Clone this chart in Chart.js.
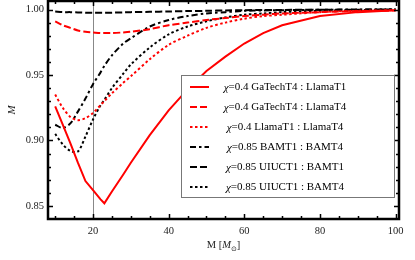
<!DOCTYPE html>
<html>
<head>
<meta charset="utf-8">
<script src="https://cdn.jsdelivr.net/npm/chart.js@4/dist/chart.umd.min.js"></script>
<style>
  body { margin: 0; background: #fff; }
  canvas { display: block; }
</style>
</head>
<body>
<canvas id="chart" width="415" height="260"></canvas>
<script>
const masses = [10, 12, 14, 16, 18, 20, 22, 23, 25, 28, 30, 35, 40, 45, 50, 55, 60, 65, 70, 80, 90, 100];

const gaTechT4LlamaT1 = [0.926, 0.912, 0.898, 0.883, 0.869, 0.862, 0.855, 0.852, 0.861, 0.874, 0.883, 0.904, 0.923, 0.939, 0.953, 0.964, 0.974, 0.982, 0.988, 0.995, 0.998, 0.9995];
const gaTechT4LlamaT4 = [0.991, 0.988, 0.986, 0.984, 0.983, 0.9825, 0.982, 0.982, 0.982, 0.9825, 0.983, 0.985, 0.988, 0.990, 0.992, 0.9935, 0.995, 0.996, 0.997, 0.998, 0.9988, 0.9992];
const llamaT1LlamaT4 = [0.935, 0.925, 0.918, 0.9155, 0.917, 0.921, 0.927, 0.930, 0.936, 0.944, 0.949, 0.962, 0.973, 0.980, 0.986, 0.990, 0.993, 0.995, 0.996, 0.998, 0.999, 0.9995];
const bamT1BamT4 = [0.912, 0.9095, 0.913, 0.922, 0.932, 0.943, 0.952, 0.957, 0.965, 0.974, 0.978, 0.987, 0.992, 0.995, 0.997, 0.998, 0.999, 0.9993, 0.9995, 0.9998, 1.0, 1.0];
const uiucT1BamT1 = [0.9985, 0.998, 0.998, 0.9978, 0.9976, 0.9975, 0.9975, 0.9975, 0.9976, 0.9978, 0.998, 0.9982, 0.9985, 0.9988, 0.999, 0.9993, 0.9995, 0.9996, 0.9997, 0.9998, 0.9999, 1.0];
const uiucT1BamT4 = [0.905, 0.897, 0.892, 0.8915, 0.903, 0.916, 0.927, 0.931, 0.940, 0.951, 0.958, 0.971, 0.981, 0.987, 0.991, 0.994, 0.996, 0.997, 0.998, 0.999, 0.9995, 1.0];

const xTicks = [20, 40, 60, 80, 100];
const yTicks = [0.85, 0.90, 0.95, 1.00];

const RED = '#ff0000';
const BLACK = '#000000';
const SERIF = '"Liberation Serif"';

function pts(vals) {
    return masses.map((m, i) => ({ x: m, y: vals[i] }));
}

function series(label, vals, color, dash, tension) {
    return {
        label: label,
        data: pts(vals),
        borderColor: color,
        borderWidth: 2,
        borderDash: dash,
        pointRadius: 0,
        fill: false,
        tension: tension
    };
}

// inward tick marks, frame, axis title and boxed legend, drawn on top
const framePlugin = {
    id: 'frame',
    afterDraw(chart) {
        const ctx = chart.ctx;
        const a = chart.chartArea;
        const xs = chart.scales.x;
        const ys = chart.scales.y;
        ctx.save();
        ctx.strokeStyle = '#000';
        ctx.lineWidth = 1.5;
        for (let v = 10; v <= 100; v += 5) {
            const px = Math.round(xs.getPixelForValue(v)) + 0.5;
            const len = v % 20 === 0 ? 5 : 3;
            ctx.beginPath();
            ctx.moveTo(px, a.bottom); ctx.lineTo(px, a.bottom - len);
            ctx.moveTo(px, a.top); ctx.lineTo(px, a.top + len);
            ctx.stroke();
        }
        for (let k = 85; k <= 100; k++) {
            const py = Math.round(ys.getPixelForValue(k / 100)) + 0.5;
            const len = k % 5 === 0 ? 5 : 3;
            ctx.beginPath();
            ctx.moveTo(a.left, py); ctx.lineTo(a.left + len, py);
            ctx.moveTo(a.right, py); ctx.lineTo(a.right - len, py);
            ctx.stroke();
        }
        ctx.lineWidth = 2.5;
        ctx.strokeRect(a.left, a.top, a.right - a.left, a.bottom - a.top);

        // x axis title: M [M_sun]
        ctx.fillStyle = '#222';
        ctx.textBaseline = 'alphabetic';
        ctx.textAlign = 'left';
        const parts = [
            { t: 'M [', f: '10.5px ' + SERIF, dy: 0 },
            { t: 'M', f: 'italic 10.5px ' + SERIF, dy: 0 },
            { t: '⊙', f: '7px "DejaVu Sans"', dy: 3 },
            { t: ']', f: '10.5px ' + SERIF, dy: 0 }
        ];
        let tw = 0;
        parts.forEach(p => { ctx.font = p.f; p.w = ctx.measureText(p.t).width; tw += p.w; });
        let tx = (a.left + a.right) / 2 - tw / 2;
        const ty = a.bottom + 29;
        parts.forEach(p => { ctx.font = p.f; ctx.fillText(p.t, tx, ty + p.dy); tx += p.w; });

        // legend box
        const bx = a.left + 133, by = a.top + 74, bw = 213, bh = 122;
        ctx.fillStyle = '#fff';
        ctx.fillRect(bx, by, bw, bh);
        ctx.lineWidth = 1;
        ctx.strokeStyle = '#777';
        ctx.strokeRect(bx + 0.5, by + 0.5, bw, bh);
        ctx.textBaseline = 'middle';
        chart.data.datasets.forEach((ds, i) => {
            const y = by + 12 + i * 20;
            ctx.strokeStyle = ds.borderColor;
            ctx.lineWidth = 2;
            ctx.setLineDash(ds.borderDash || []);
            ctx.beginPath();
            ctx.moveTo(bx + 9, y); ctx.lineTo(bx + 28, y);
            ctx.stroke();
            ctx.setLineDash([]);
            ctx.fillStyle = '#000';
            const chi = 'χ';
            const rest = '=' + ds.label.split('=')[1];
            ctx.font = 'italic 11px ' + SERIF;
            const w1 = ctx.measureText(chi).width;
            ctx.font = '11px ' + SERIF;
            const w2 = ctx.measureText(rest).width;
            const x0 = bx + 104 - (w1 + w2) / 2;
            ctx.font = 'italic 11px ' + SERIF;
            ctx.fillText(chi, x0, y + 1);
            ctx.font = '11px ' + SERIF;
            ctx.fillText(rest, x0 + w1, y);
        });
        ctx.restore();
    }
};

new Chart(document.getElementById('chart').getContext('2d'), {
    type: 'line',
    data: {
        datasets: [
            series('χ=0.4 GaTechT4 : LlamaT1', gaTechT4LlamaT1, RED, [], 0),
            series('χ=0.4 GaTechT4 : LlamaT4', gaTechT4LlamaT4, RED, [7, 3], 0.3),
            series('χ=0.4 LlamaT1 : LlamaT4', llamaT1LlamaT4, RED, [2.5, 2.5], 0.3),
            series('χ=0.85 BAMT1 : BAMT4', bamT1BamT4, BLACK, [6, 3, 2.5, 3], 0.3),
            series('χ=0.85 UIUCT1 : BAMT1', uiucT1BamT1, BLACK, [7, 3], 0.3),
            series('χ=0.85 UIUCT1 : BAMT4', uiucT1BamT4, BLACK, [2.5, 2.5], 0.3)
        ]
    },
    options: {
        responsive: false,
        animation: false,
        layout: { padding: { top: 1, right: 16, left: 0, bottom: 0 } },
        plugins: {
            legend: { display: false },
            tooltip: { enabled: false }
        },
        scales: {
            x: {
                type: 'linear',
                min: 8.1,
                max: 100.9,
                afterBuildTicks: (s) => { s.ticks = xTicks.map(v => ({ value: v })); },
                afterFit: (s) => { s.height = 41; s.paddingLeft = 0; s.paddingRight = 0; },
                border: { display: false },
                grid: {
                    drawTicks: false,
                    color: (c) => (c.tick && c.tick.value === 20) ? '#888' : 'rgba(0,0,0,0)',
                    lineWidth: 1
                },
                ticks: {
                    padding: 6,
                    color: '#222',
                    font: { family: 'Liberation Serif', size: 10.5 },
                    maxRotation: 0
                },
                title: { display: false }
            },
            y: {
                min: 0.84,
                max: 1.0065,
                afterBuildTicks: (s) => { s.ticks = yTicks.map(v => ({ value: v })); },
                afterFit: (s) => { s.width = 48; s.paddingTop = 0; s.paddingBottom = 0; },
                border: { display: false },
                grid: { display: false, drawTicks: false },
                ticks: {
                    padding: 4,
                    color: '#222',
                    font: { family: 'Liberation Serif', size: 10.5 },
                    callback: (v) => v.toFixed(2)
                },
                title: {
                    display: true,
                    text: 'M',
                    color: '#222',
                    font: { family: 'Liberation Serif', size: 11, style: 'italic' },
                    padding: { top: 6, bottom: 4 }
                }
            }
        }
    },
    plugins: [framePlugin]
});
</script>
</body>
</html>
